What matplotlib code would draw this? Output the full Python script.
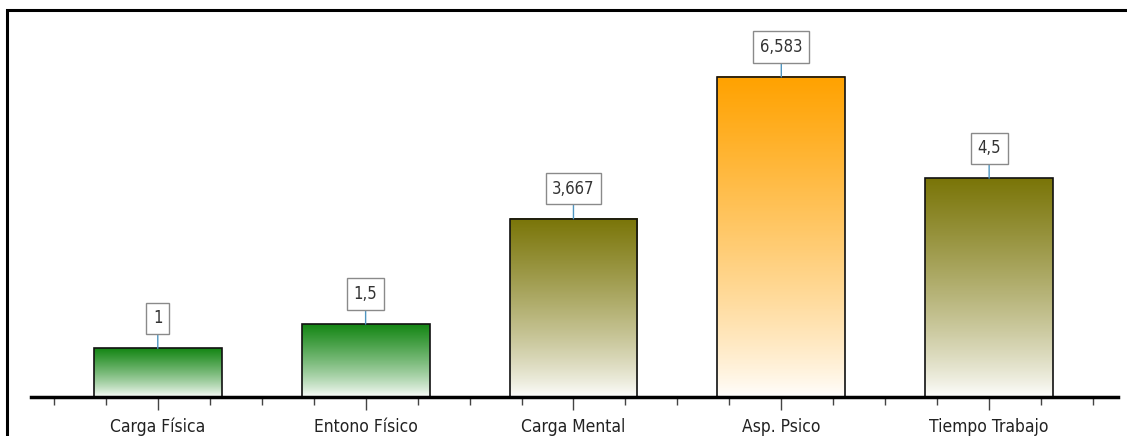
import numpy as np
import matplotlib
matplotlib.use("Agg")
import matplotlib.pyplot as plt
from matplotlib.colors import LinearSegmentedColormap
from matplotlib.patches import Rectangle

categories = ["Carga Física", "Entono Físico", "Carga Mental", "Asp. Psico", "Tiempo Trabajo"]
values = [1, 1.5, 3.667, 6.583, 4.5]
value_labels = ["1", "1,5", "3,667", "6,583", "4,5"]
top_colors = ["#148614", "#148614", "#7a7508", "#ffa200", "#7a7508"]

W, H = 1127, 436
fig = plt.figure(figsize=(W / 100, H / 100), dpi=100)
fig.patch.set_facecolor("white")

# outer frame (top and left visible, rest cropped)
fig.add_artist(Rectangle((7 / W, -0.1), 1.2, 1 - 10 / H + 0.1, transform=fig.transFigure,
                         fill=False, edgecolor="black", linewidth=2.2))

ax = fig.add_axes([31 / W, (H - 397) / H, 1087 / W, 387 / H])
ax.set_facecolor("none")

x = np.arange(len(categories))
width = 0.615
grad = np.linspace(0, 1, 256).reshape(-1, 1) ** 0.8

for xi, v, c in zip(x, values, top_colors):
    cmap = LinearSegmentedColormap.from_list("g", ["#ffffff", c])
    ax.imshow(grad, extent=(xi - width / 2, xi + width / 2, 0, v), origin="lower",
              aspect="auto", cmap=cmap, zorder=1, interpolation="bilinear")
    ax.add_patch(Rectangle((xi - width / 2, 0), width, v, fill=False,
                           edgecolor="#111111", linewidth=1.2, zorder=2))

for xi, v, lab in zip(x, values, value_labels):
    ax.annotate(lab, xy=(xi, v), xytext=(0, 30), textcoords="offset pixels",
                ha="center", va="center", fontsize=12, color="#333333",
                family="DejaVu Sans", fontstretch="condensed",
                bbox=dict(boxstyle="square,pad=0.4", fc="white", ec="#8a8a8a", lw=1),
                arrowprops=dict(arrowstyle="-", color="#4f95c0", lw=1, shrinkA=0, shrinkB=0),
                zorder=3)

ax.set_xlim(-0.61, 4.62)
ax.set_ylim(0, 7.96)
for s in ["top", "left", "right"]:
    ax.spines[s].set_visible(False)
ax.spines["bottom"].set_linewidth(2.5)
ax.spines["bottom"].set_zorder(4)
ax.set_yticks([])
ax.set_xticks(x)
ax.set_xticklabels(categories, fontsize=12.5, family="DejaVu Sans", fontstretch="condensed",
                   color="#222222")
minor = [t for t in np.arange(-0.5, 4.51, 0.25) if abs(t - round(t)) > 1e-6]
ax.set_xticks(minor, minor=True)
ax.tick_params(axis="x", which="major", length=9, width=1, color="#444444", pad=6)
ax.tick_params(axis="x", which="minor", length=6, width=1, color="#444444")

fig.savefig("out.png", dpi=100)
